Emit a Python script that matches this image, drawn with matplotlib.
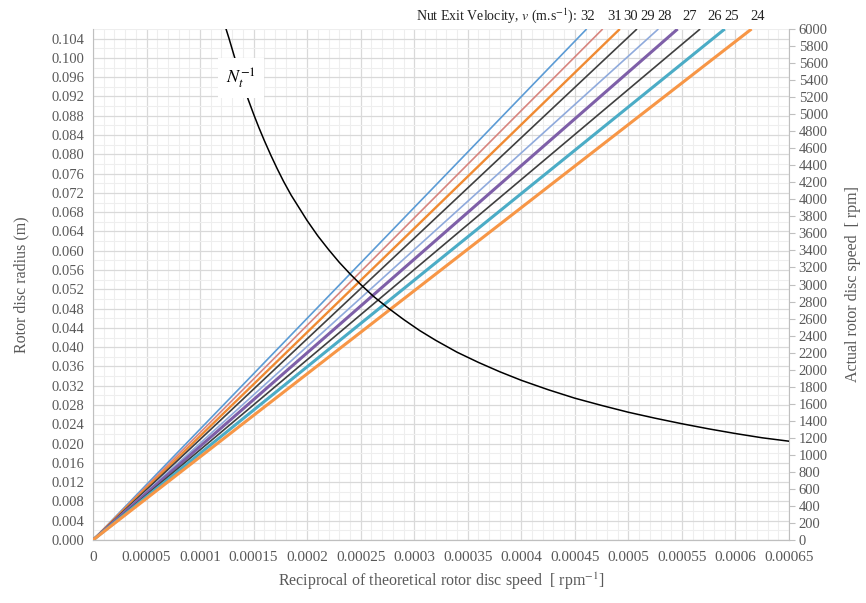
import matplotlib
matplotlib.use("Agg")
import matplotlib.pyplot as plt
from matplotlib.ticker import MultipleLocator, FuncFormatter

# ---- data ----
velocities = [32, 31, 30, 29, 28, 27, 26, 25, 24]
# reciprocal speed (rpm^-1) at which each radius line reaches r_top
x_at_top = [0.000461, 0.000476, 0.000492, 0.000508, 0.000528,
            0.000546, 0.000567, 0.000590, 0.000615]
r_top = 0.106
line_colors = ['#5B9BD5', '#D7857F', '#F08A32', '#3F3F3F', '#8FAADC',
               '#7E5FA8', '#3F3F3F', '#4BACC6', '#F79646']
line_widths = [1.2, 1.2, 1.7, 1.2, 1.2, 2.2, 1.2, 2.2, 2.2]

# N_t^-1 curve: reciprocal speed vs actual speed (rpm)
curve_x = [0.000123, 0.000127, 0.000131, 0.000135, 0.000140, 0.000145,
           0.000150, 0.000155, 0.000160, 0.000166, 0.000172, 0.000178,
           0.000185, 0.000192, 0.000200, 0.000210, 0.000220, 0.000230,
           0.000240, 0.000250, 0.000262, 0.000275, 0.000290, 0.000305,
           0.000320, 0.000340, 0.000360, 0.000380, 0.000400, 0.000425,
           0.000450, 0.000475, 0.000500, 0.000525, 0.000550, 0.000575,
           0.000600, 0.000625, 0.000650]
curve_y = [6050, 5890, 5720, 5550, 5360, 5170, 5000, 4840, 4690, 4520,
           4360, 4210, 4050, 3910, 3750, 3570, 3410, 3260, 3125, 3000,
           2860, 2730, 2590, 2460, 2345, 2205, 2085, 1975, 1875, 1765,
           1665, 1580, 1500, 1430, 1365, 1305, 1250, 1200, 1160]

x_ticks = [0, 0.00005, 0.0001, 0.00015, 0.0002, 0.00025, 0.0003, 0.00035,
           0.0004, 0.00045, 0.0005, 0.00055, 0.0006, 0.00065]
x_tick_labels = ['0', '0.00005', '0.0001', '0.00015', '0.0002', '0.00025',
                 '0.0003', '0.00035', '0.0004', '0.00045', '0.0005',
                 '0.00055', '0.0006', '0.00065']

# ---- styling ----
plt.rcParams['font.family'] = ['Liberation Serif', 'DejaVu Serif']
plt.rcParams['mathtext.fontset'] = 'stix'
grey = '#595959'

fig = plt.figure(figsize=(8.66, 6.03), dpi=100)
ax = fig.add_axes([93/866, 1-540/603, (789-93)/866, (540-29)/603])
ax2 = ax.twinx()

ax.set_xlim(0, 0.00065)
ax.set_ylim(0, r_top)
ax2.set_ylim(0, 6000)

# grid
ax.xaxis.set_minor_locator(MultipleLocator(0.00001))
ax.yaxis.set_minor_locator(MultipleLocator(0.002))
ax.yaxis.set_major_locator(MultipleLocator(0.004))
ax.grid(which='major', color='#D9D9D9', lw=0.9)
ax.grid(which='minor', color='#EEEEEE', lw=0.8)
ax.set_axisbelow(True)

for v, xe, c, lw in zip(velocities, x_at_top, line_colors, line_widths):
    ax.plot([0, xe], [0, r_top], color=c, lw=lw, solid_capstyle='butt',
            clip_on=True, zorder=3)

ax2.plot(curve_x, curve_y, color='black', lw=1.1, zorder=4)
ax2.set_zorder(ax.get_zorder() + 1)
ax2.patch.set_visible(False)

# ticks
ax.set_xticks(x_ticks)
ax.set_xticklabels(x_tick_labels)
ax.yaxis.set_major_formatter(FuncFormatter(lambda v, p: f"{v:.3f}"))
ax.tick_params(axis='both', which='both', length=0, colors=grey)
ax.tick_params(axis='x', pad=8, labelsize=11)
ax.tick_params(axis='y', pad=6, labelsize=10.5)
ax2.yaxis.set_major_locator(MultipleLocator(200))
ax2.tick_params(axis='y', which='major', length=4, color='#BFBFBF',
                labelcolor=grey, labelsize=10.5, pad=3)

for a in (ax, ax2):
    a.spines['top'].set_visible(False)
    a.spines['left'].set_color('#BFBFBF')
    a.spines['right'].set_color('#BFBFBF')
    a.spines['bottom'].set_color('#BFBFBF')
ax2.spines['left'].set_visible(False)
ax.spines['right'].set_visible(False)

ax.set_ylabel('Rotor disc radius (m)', color=grey, fontsize=11.5,
              labelpad=16)
ax2.set_ylabel('Actual rotor disc speed  [ rpm]', color=grey, fontsize=11.5,
               labelpad=12)
ax.set_xlabel('Reciprocal of theoretical rotor disc speed  [ rpm$^{-1}$]',
              color=grey, fontsize=11.5, labelpad=5)

# N_t^-1 label
ax2.text(0.000138, 5420, r'$N_t^{-1}$', fontsize=13, ha='center',
         va='center', color='black',
         bbox=dict(boxstyle='square,pad=0.45', fc='white', ec='none'),
         zorder=6)

# header with velocity labels
label_px = [588, 615, 631, 648, 665, 690, 715, 732, 758]
fig.text(577/866, 1-16/603, 'Nut Exit Velocity, $v$ (m.s$^{-1}$):',
         ha='right', va='center', fontsize=10, color='#222222')
for v, px in zip(velocities, label_px):
    fig.text(px/866, 1-16/603, str(v), ha='center', va='center',
             fontsize=10.5, color='#222222')

fig.savefig('out.png', dpi=100)
